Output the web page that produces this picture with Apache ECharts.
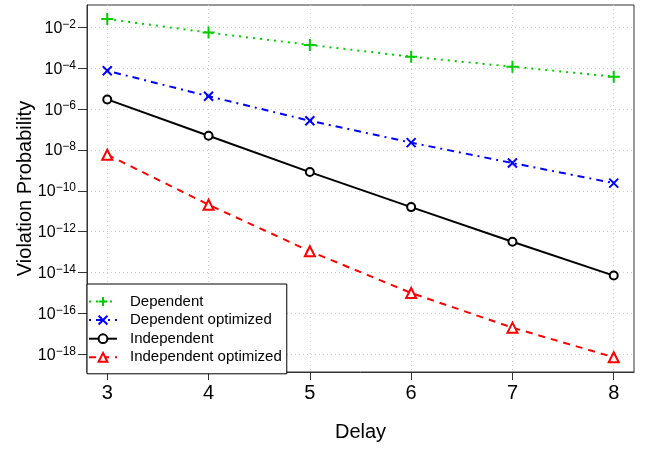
<!DOCTYPE html>
<html>
<head>
<meta charset="utf-8">
<script src="https://cdn.jsdelivr.net/npm/echarts@6/dist/echarts.min.js"></script>
<style>
  html, body { margin: 0; padding: 0; background: #fff; }
  #chart { width: 646px; height: 449px; }
</style>
</head>
<body>
<div id="chart"></div>
<script>
var delays = [3, 4, 5, 6, 7, 8];
var dependent = [2.6e-2, 5.6e-3, 1.4e-3, 3.7e-4, 1.2e-4, 3.9e-5];
var dependentOpt = [7.6e-5, 4.3e-6, 2.7e-7, 2.3e-8, 2.3e-9, 2.4e-10];
var independent = [3.0e-6, 5.0e-8, 8.3e-10, 1.6e-11, 3.2e-13, 7.1e-15];
var independentOpt = [5.9e-9, 2.1e-11, 1.1e-13, 1.0e-15, 2.0e-17, 7.1e-19];
var yExponents = [-18, -16, -14, -12, -10, -8, -6, -4, -2];

var chartDom = document.getElementById('chart');
var myChart = echarts.init(chartDom);

// y axis works on log10 of the probability
function toPoints(values) {
    return values.map(function (v, i) { return [delays[i], Math.log10(v)]; });
}

var font = 'Liberation Sans, Arial, Helvetica, sans-serif';

function lineSeries(name, values, color, dash, symbol, size) {
    return {
        name: name,
        type: 'line',
        data: toPoints(values),
        symbol: symbol,
        symbolSize: size,
        showSymbol: true,
        lineStyle: { color: color, width: 2, type: dash },
        itemStyle: { color: color, borderColor: color, borderWidth: 2 },
        emphasis: { disabled: true },
        z: 3
    };
}

var option = {
    animation: false,
    textStyle: { fontFamily: font },
    grid: {
        left: 87,
        right: 12,
        top: 5,
        bottom: 77,
        show: true,
        borderColor: '#333',
        borderWidth: 1
    },
    legend: {
        orient: 'vertical',
        left: 87,
        top: 284,
        padding: [10, 5, 9, 1],
        itemWidth: 28,
        itemHeight: 11,
        itemGap: 3.6,
        backgroundColor: '#fff',
        borderColor: '#000',
        borderWidth: 1,
        borderRadius: 0,
        selectedMode: false,
        textStyle: {
            fontFamily: font,
            fontSize: 15,
            color: '#000',
            lineHeight: 14,
            padding: [0, 0, 0, 8]
        },
        data: ['Dependent', 'Dependent optimized', 'Independent', 'Independent optimized']
    },
    xAxis: {
        type: 'value',
        min: 2.8,
        max: 8.2,
        name: 'Delay',
        nameLocation: 'middle',
        nameGap: 50,
        nameTextStyle: { fontSize: 20, color: '#000', fontFamily: font },
        axisLine: { show: true, onZero: false, lineStyle: { color: '#333', width: 1 } },
        axisTick: { show: true, length: 8, customValues: delays, lineStyle: { color: '#333' } },
        axisLabel: { customValues: delays, fontSize: 20, color: '#000', margin: 11, fontFamily: font },
        splitLine: { show: true, lineStyle: { color: '#cfcfcf', type: [1, 3], width: 1 } }
    },
    yAxis: {
        type: 'value',
        min: -18.87,
        max: -0.9,
        name: 'Violation Probability',
        nameLocation: 'middle',
        nameGap: 52,
        nameMoveOverlap: false,
        nameTextStyle: { fontSize: 20, color: '#000', fontFamily: font },
        axisLine: { show: true, onZero: false, lineStyle: { color: '#333', width: 1 } },
        axisTick: { show: true, length: 9, customValues: yExponents, lineStyle: { color: '#333' } },
        axisLabel: {
            customValues: yExponents,
            margin: 11,
            formatter: function (v) {
                return '{b|10}{s|\u2212' + Math.abs(Math.round(v)) + '}';
            },
            rich: {
                b: { fontSize: 16, color: '#000', lineHeight: 18, verticalAlign: 'bottom', fontFamily: font },
                s: { fontSize: 12, color: '#000', lineHeight: 12, verticalAlign: 'top', fontFamily: font }
            }
        },
        splitLine: { show: true, lineStyle: { color: '#cfcfcf', type: [1, 3], width: 1 } }
    },
    series: [
        lineSeries('Dependent', dependent, '#00cd00', [2, 5], 'path://M0,5L10,5M5,0L5,10', 12),
        lineSeries('Dependent optimized', dependentOpt, '#0000ff', [2, 5, 7, 5], 'path://M0,0L10,10M10,0L0,10', 9),
        lineSeries('Independent', independent, '#000000', 'solid', 'emptyCircle', 8),
        lineSeries('Independent optimized', independentOpt, '#ff0000', [7, 6], 'emptyTriangle', 10)
    ]
};

myChart.setOption(option);
</script>
</body>
</html>
